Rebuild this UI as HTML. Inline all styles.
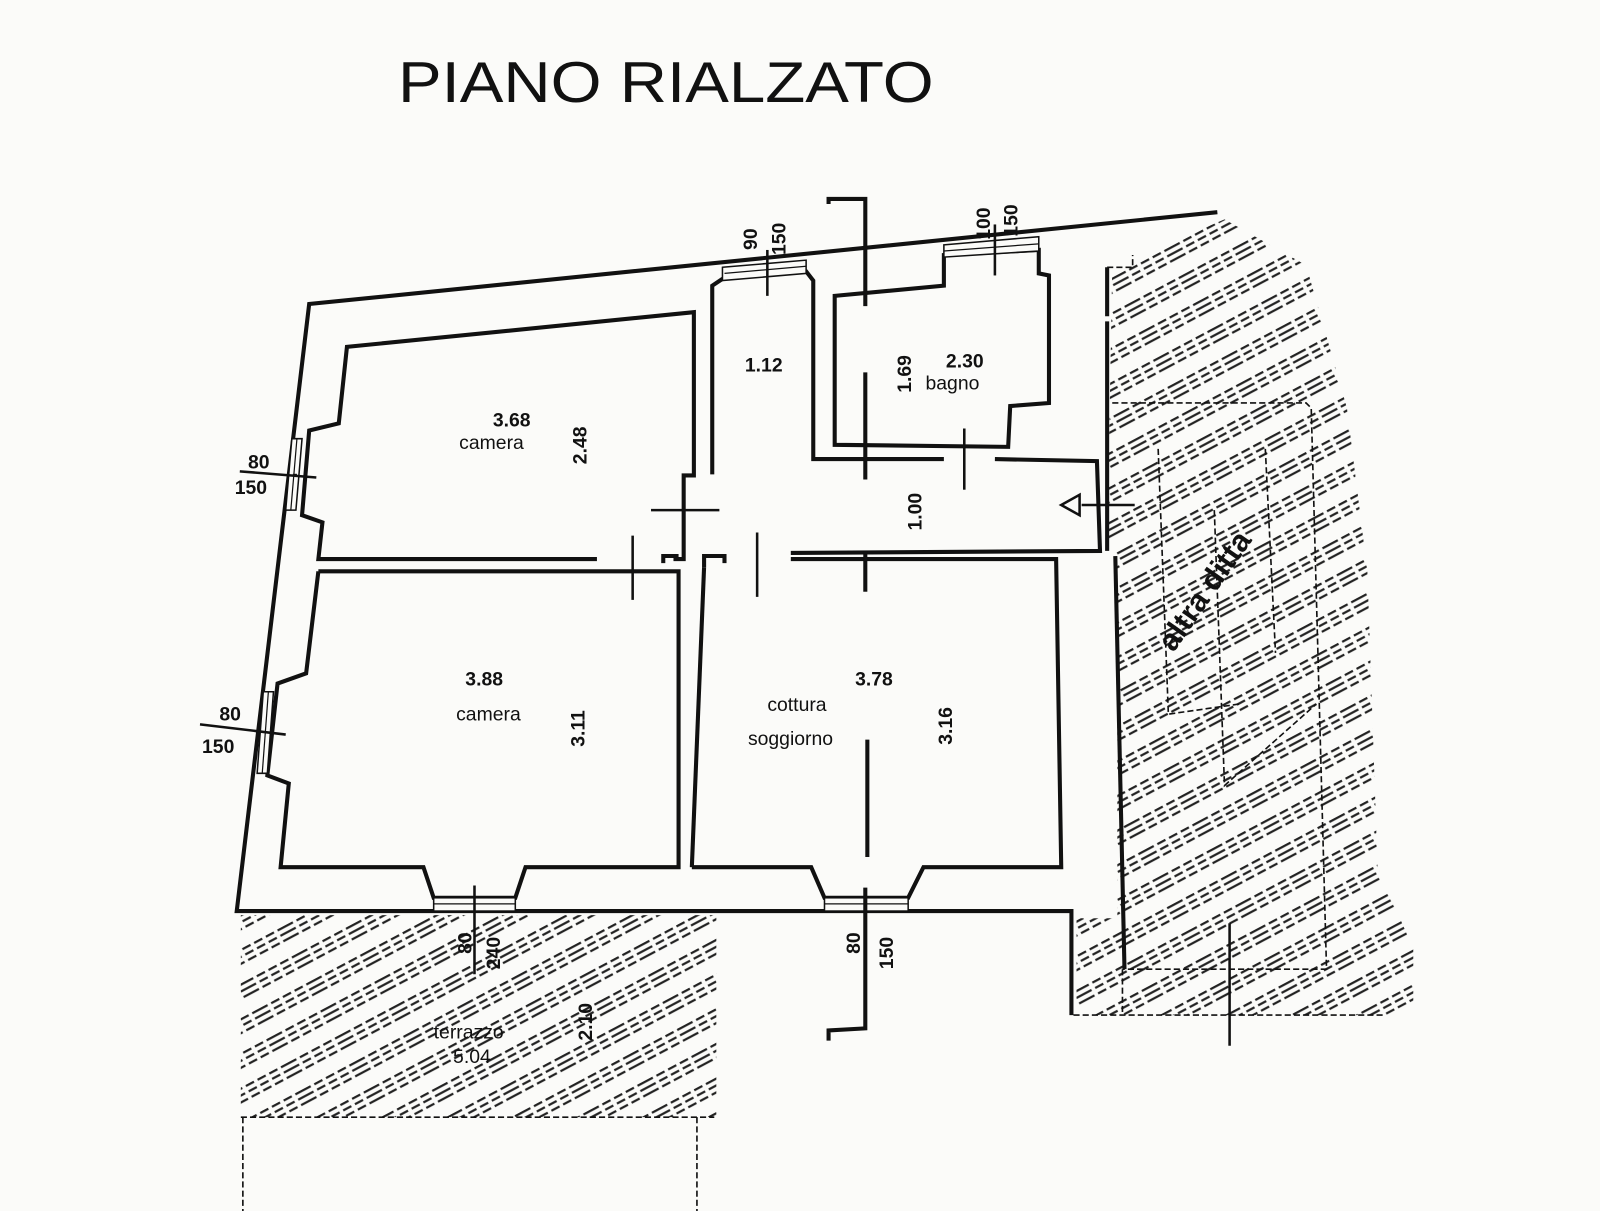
<!DOCTYPE html>
<html><head><meta charset="utf-8"><style>
html,body{margin:0;padding:0;background:#fbfbf9;}
svg{display:block}
text{font-family:"Liberation Sans",sans-serif;fill:#111;font-weight:bold}
</style></head><body>
<svg width="1600" height="1211" viewBox="0 0 1568 1187" preserveAspectRatio="none" xmlns="http://www.w3.org/2000/svg">
<defs>
<pattern id="h" width="60" height="30" patternUnits="userSpaceOnUse" patternTransform="rotate(-28)">
<g stroke="#222" stroke-width="2.2" stroke-dasharray="9 4">
<line x1="0" y1="3" x2="60" y2="3"/><line x1="0" y1="9" x2="60" y2="9"/><line x1="0" y1="15" x2="60" y2="15"/>
</g></pattern>
</defs>
<rect width="1568" height="1187" fill="#fbfbf9"/>
<text x="390" y="100" font-size="56" textLength="525" lengthAdjust="spacingAndGlyphs" style="font-weight:normal">PIANO RIALZATO</text>

<rect x="236" y="897" width="466" height="198" fill="url(#h)"/>
<polygon points="1090,262 1200,215 1280,260 1320,400 1340,560 1350,850 1385,930 1385,995 1055,995 1055,900 1095,900 1095,545 1085,540" fill="url(#h)"/>

<g fill="none" stroke="#111" stroke-width="1.6" stroke-dasharray="6 3">
<line x1="236" y1="1095" x2="700" y2="1095"/>
<line x1="238" y1="1095" x2="238" y2="1187"/>
<line x1="683" y1="1095" x2="683" y2="1187"/>
<polyline points="1085,262 1110,262 1110,250"/>
<polyline points="1090,395 1280,395 1285,400 1300,950 1100,950"/>
<polyline points="1135,440 1145,700 1215,690"/>
<polyline points="1190,500 1200,770 1290,690"/>
<polyline points="1240,440 1250,640"/>
<line x1="1052" y1="995" x2="1355" y2="995"/>
<line x1="1100" y1="950" x2="1100" y2="995"/>
</g>

<g fill="none" stroke="#111" stroke-width="4" stroke-linejoin="miter">
<polyline points="1193,208 303,298 232,893 1050,893 1050,995"/>
<line x1="1085" y1="262" x2="1085" y2="310"/>
<line x1="1085" y1="315" x2="1085" y2="540"/>
<line x1="1093" y1="545" x2="1102" y2="950"/>
<polyline points="585,548 312,548 316,512 296,505 303,422 332,415 340,340 680,306 680,466 670,466 670,548 660,548"/>
<polyline points="312,560 300,660 272,670 262,760 283,768 275,850 415,850 425,880 505,880 515,850 665,850 665,560 312,560"/>
<polyline points="678,850 795,850 808,880 890,880 905,850 1040,850 1035,548 775,548"/>
<polyline points="690,556 678,850"/>
<polyline points="690,556 690,545 710,545 710,552"/>
<polyline points="650,552 650,545 665,545"/>
<polyline points="698,465 698,280 710,272 790,266 797,275 797,450 925,450"/>
<polyline points="975,450 1075,452 1078,540 775,542"/>
<polygon points="818,290 925,280 925,250 1018,245 1018,268 1028,270 1028,395 990,398 988,438 818,436"/>
</g>
<g stroke="#111" stroke-width="1.5" fill="#fbfbf9">
<polygon points="708,262 790,255 790,268 708,275"/>
<polygon points="925,240 1018,232 1018,246 925,252"/>
<polygon points="286,430 296,430 290,500 280,500"/>
<polygon points="258,678 268,678 262,758 252,758"/>
<rect x="425" y="880" width="80" height="13"/>
<rect x="808" y="880" width="82" height="13"/>
</g>
<g stroke="#111" stroke-width="1.2">
<line x1="710" y1="268" x2="790" y2="261"/>
<line x1="925" y1="246" x2="1018" y2="239"/>
<line x1="287" y1="465" x2="291" y2="465" />
<line x1="425" y1="886" x2="505" y2="886"/>
<line x1="808" y1="886" x2="890" y2="886"/>
<line x1="291" y1="430" x2="285" y2="500"/>
<line x1="263" y1="678" x2="257" y2="758"/>
</g>
<g stroke="#111" stroke-width="4" fill="none">
<polyline points="812,200 812,195 848,195 848,300"/>
<line x1="848" y1="365" x2="848" y2="470"/>
<line x1="848" y1="540" x2="848" y2="580"/>
<line x1="850" y1="725" x2="850" y2="840"/>
<polyline points="848,870 848,1008 812,1010 812,1020"/>
</g>
<g stroke="#111" stroke-width="2.5" fill="none">
<line x1="752" y1="245" x2="752" y2="290"/>
<line x1="975" y1="220" x2="975" y2="270"/>
<line x1="945" y1="420" x2="945" y2="480"/>
<line x1="638" y1="500" x2="705" y2="500"/>
<line x1="620" y1="525" x2="620" y2="588"/>
<line x1="742" y1="522" x2="742" y2="585"/>
<line x1="235" y1="462" x2="310" y2="468"/>
<line x1="196" y1="710" x2="280" y2="720"/>
<line x1="465" y1="868" x2="465" y2="955"/>
<line x1="1205" y1="905" x2="1205" y2="1025"/>
<line x1="1060" y1="495" x2="1112" y2="495"/>
<polygon points="1040,495 1058,485 1058,505"/>
</g>
<g font-size="19">
<text x="483" y="418">3.68</text>
<text x="450" y="440" style="font-weight:normal">camera</text>
<text x="730" y="364">1.12</text>
<text x="927" y="360">2.30</text>
<text x="907" y="382" style="font-weight:normal">bagno</text>
<text x="456" y="672">3.88</text>
<text x="447" y="706" style="font-weight:normal">camera</text>
<text x="838" y="672">3.78</text>
<text x="752" y="697" style="font-weight:normal">cottura</text>
<text x="733" y="730" style="font-weight:normal">soggiorno</text>
<text x="425" y="1018" style="font-weight:normal">terrazzo</text>
<text x="444" y="1042" style="font-weight:normal">5.04</text>
<text x="243" y="459">80</text>
<text x="230" y="484">150</text>
<text x="215" y="706">80</text>
<text x="198" y="738">150</text>
</g>
<g font-size="19">
<text transform="translate(575,455) rotate(-90)">2.48</text>
<text transform="translate(893,385) rotate(-90)">1.69</text>
<text transform="translate(903,520) rotate(-90)">1.00</text>
<text transform="translate(573,732) rotate(-90)">3.11</text>
<text transform="translate(933,730) rotate(-90)">3.16</text>
<text transform="translate(580,1020) rotate(-90)">2.10</text>
<text transform="translate(742,245) rotate(-90)">90</text>
<text transform="translate(770,250) rotate(-90)">150</text>
<text transform="translate(970,235) rotate(-90)">100</text>
<text transform="translate(997,232) rotate(-90)">150</text>
<text transform="translate(462,935) rotate(-90)">80</text>
<text transform="translate(490,950) rotate(-90)">240</text>
<text transform="translate(843,935) rotate(-90)">80</text>
<text transform="translate(875,950) rotate(-90)">150</text>
</g>
<text font-size="30" transform="translate(1150,640) rotate(-55)">altra ditta</text>
</svg>
</body></html>
